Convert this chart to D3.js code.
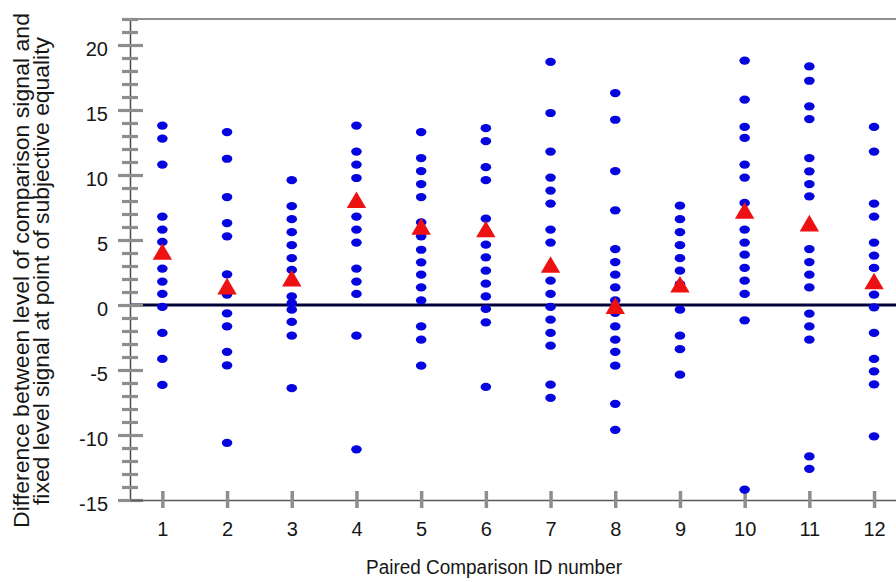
<!DOCTYPE html>
<html>
<head>
<meta charset="utf-8">
<script src="https://cdn.jsdelivr.net/npm/d3@7"></script>
<style>
  body { margin: 0; background: #fff; }
  svg { display: block; }
  text { font-family: Arial, "Liberation Sans", sans-serif; fill: #161616; }
</style>
</head>
<body>
<svg id="chart" width="896" height="582"></svg>
<script>
// ---- data ----
const ids = [1, 2, 3, 4, 5, 6, 7, 8, 9, 10, 11, 12];
const pc1  = [13.8, 12.8, 10.8, 6.8, 5.8, 4.85, 3.85, 2.8, 1.8, 0.85, -0.15, -2.15, -4.15, -6.15];
const pc2  = [13.3, 11.25, 8.3, 6.3, 5.28, 2.35, 0.8, -0.65, -1.65, -3.6, -4.65, -10.6];
const pc3  = [9.6, 7.6, 6.6, 5.6, 4.6, 3.6, 2.7, 0.66, 0.15, -0.36, -1.3, -2.36, -6.4];
const pc4  = [13.8, 11.8, 10.8, 9.77, 7.8, 6.8, 5.8, 4.8, 2.8, 1.8, 0.85, -2.36, -11.1];
const pc5  = [13.3, 11.3, 10.3, 9.3, 8.3, 6.35, 5.28, 4.25, 3.28, 2.33, 1.35, 0.35, -1.65, -2.67, -4.67];
const pc6  = [13.6, 12.6, 10.6, 9.6, 6.64, 5.7, 4.64, 3.67, 2.64, 1.64, 0.66, -0.3, -1.33, -6.3];
const pc7  = [18.7, 14.77, 11.8, 9.8, 8.8, 7.8, 5.8, 4.8, 2.85, 1.87, 0.85, -0.15, -1.13, -2.15, -3.13, -6.13, -7.15];
const pc8  = [16.3, 14.25, 10.3, 7.28, 4.3, 3.3, 2.33, 1.35, 0.35, -0.6, -1.65, -2.67, -3.6, -4.67, -7.6, -9.6];
const pc9  = [7.64, 6.6, 5.6, 4.6, 3.6, 2.64, 1.6, -0.36, -2.36, -3.4, -5.36];
const pc10 = [18.8, 15.8, 13.7, 12.85, 10.8, 9.8, 7.85, 5.8, 4.8, 3.87, 2.85, 1.87, 0.85, -1.18, -14.2];
const pc11 = [18.35, 17.25, 15.28, 14.3, 11.3, 10.28, 9.3, 8.36, 4.3, 3.3, 2.33, 1.35, -0.67, -1.65, -2.67, -11.65, -12.6];
const pc12 = [13.7, 11.8, 7.8, 6.8, 4.8, 3.8, 2.85, 0.8, -0.18, -2.15, -4.15, -5.1, -6.1, -10.1];
const means = [4.12, 1.45, 2.07, 8.1, 6.05, 5.85, 3.12, -0.05, 1.6, 7.28, 6.3, 1.85];
const yMajorTicks = [-15, -10, -5, 0, 5, 10, 15, 20];
const xTitle = "Paired Comparison ID number";
const yTitleLines = ["Difference between level of comparison signal and",
                     "fixed level signal at point of subjective equality"];

const responses = [pc1, pc2, pc3, pc4, pc5, pc6, pc7, pc8, pc9, pc10, pc11, pc12];
const points = [];
responses.forEach((arr, i) => arr.forEach(v => points.push({ id: ids[i], v })));

// ---- layout ----
const svg = d3.select("#chart");
const W = 896;
const x = d3.scaleLinear().domain([0.5, 12.5]).range([130, 906.4]);
const y = d3.scaleLinear().domain([-15, 22]).range([500, 19]);
const x0 = x.range()[0];
const FONT = "Arial, 'Liberation Sans', sans-serif";

// top frame line
svg.append("line")
  .attr("x1", x0).attr("x2", W)
  .attr("y1", y(22)).attr("y2", y(22))
  .attr("stroke", "#222").attr("stroke-width", 1.2);

// zero reference line
svg.append("line")
  .attr("x1", x0).attr("x2", W)
  .attr("y1", y(0)).attr("y2", y(0))
  .attr("stroke", "#00003a").attr("stroke-width", 3.2);

// y axis
const yAxis = d3.axisLeft(y)
  .tickValues(d3.range(-15, 23))
  .tickFormat(d => yMajorTicks.includes(d) ? d : "")
  .tickSizeOuter(0);
const gy = svg.append("g").attr("transform", `translate(${x0},0)`).call(yAxis);
gy.select(".domain").attr("stroke", "#4a4a4a").attr("stroke-width", 1.5);
gy.selectAll(".tick line")
  .attr("x1", d => yMajorTicks.includes(d) ? 13 : 8)
  .attr("x2", d => yMajorTicks.includes(d) ? -12 : -8)
  .attr("stroke", "#8e8e8e").attr("stroke-width", 3.2);
gy.selectAll(".tick text")
  .attr("x", -22).attr("y", 3).attr("dy", "0.35em")
  .style("font-size", "20px").style("font-family", FONT)
  .attr("fill", "#161616");

// x axis
const xAxis = d3.axisBottom(x).tickValues(ids).tickSizeOuter(0);
const gx = svg.append("g").attr("transform", `translate(0,${y(-15)})`).call(xAxis);
gx.select(".domain").attr("stroke", "#5a5a5a").attr("stroke-width", 1.5);
gx.selectAll(".tick line")
  .attr("y1", -9).attr("y2", 8)
  .attr("stroke", "#8e8e8e").attr("stroke-width", 3.5);
gx.selectAll(".tick text")
  .attr("y", 35.5).attr("dy", 0)
  .style("font-size", "20px").style("font-family", FONT)
  .attr("fill", "#161616");

// individual points
svg.append("g").selectAll("ellipse").data(points).join("ellipse")
  .attr("cx", d => x(d.id)).attr("cy", d => y(d.v))
  .attr("rx", 5.3).attr("ry", 4.1)
  .attr("fill", "#0505e0");

// mean triangles
svg.append("g").selectAll("path").data(means).join("path")
  .attr("transform", (m, i) => `translate(${x(ids[i])},${y(m)})`)
  .attr("d", "M0,-8.3L9.7,8.3L-9.7,8.3Z")
  .attr("fill", "#ee1111");

// x title
svg.append("text")
  .attr("x", 494).attr("y", 574)
  .attr("text-anchor", "middle")
  .attr("textLength", 256)
  .attr("lengthAdjust", "spacingAndGlyphs")
  .style("font-size", "20px")
  .text(xTitle);

// y title (two lines)
const yt = [{ bx: 29, cy: 270.5, len: 515 }, { bx: 49, cy: 271, len: 468 }];
yTitleLines.forEach((t, i) => {
  svg.append("text")
    .attr("transform", `translate(${yt[i].bx},${yt[i].cy}) rotate(-90)`)
    .attr("text-anchor", "middle")
    .attr("textLength", yt[i].len)
    .attr("lengthAdjust", "spacingAndGlyphs")
    .style("font-size", "21.5px")
    .text(t);
});
</script>
</body>
</html>
